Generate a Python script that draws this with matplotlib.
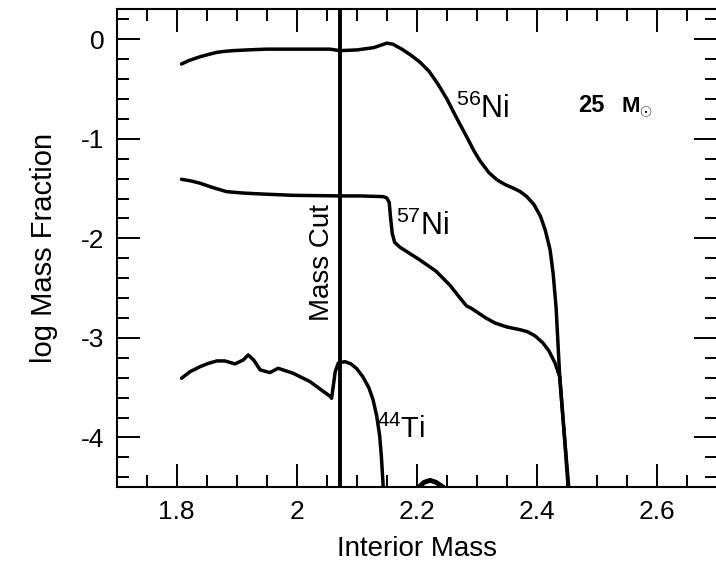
import numpy as np
import matplotlib
matplotlib.use("Agg")
import matplotlib.pyplot as plt
from matplotlib.ticker import MultipleLocator

# fonts: Helvetica-like look
plt.rcParams['font.family'] = ['Liberation Sans', 'DejaVu Sans']
plt.rcParams['mathtext.fontset'] = 'custom'
plt.rcParams['mathtext.rm'] = 'Liberation Sans'
plt.rcParams['mathtext.bf'] = 'Liberation Sans:bold'

# 56Ni profile (interior mass, log mass fraction)
ni56_m = [1.808, 1.82, 1.839, 1.855, 1.867, 1.88, 1.894, 1.92, 1.95, 2.005, 2.055, 2.072,
          2.10, 2.128, 2.15, 2.16, 2.175, 2.19, 2.205, 2.22, 2.235, 2.25, 2.267, 2.283,
          2.295, 2.305, 2.32, 2.333, 2.347, 2.361, 2.372, 2.383, 2.395, 2.406, 2.414,
          2.422, 2.427, 2.432, 2.438, 2.446, 2.453]
ni56_x = [-0.249, -0.215, -0.176, -0.15, -0.132, -0.122, -0.115, -0.107, -0.10, -0.10, -0.10,
          -0.115, -0.108, -0.085, -0.04, -0.05, -0.10, -0.16, -0.23, -0.32, -0.45, -0.60,
          -0.80, -0.98, -1.12, -1.22, -1.34, -1.41, -1.46, -1.497, -1.53, -1.58, -1.66,
          -1.78, -1.92, -2.117, -2.35, -2.70, -3.39, -4.0, -4.5]

# 57Ni profile
ni57_m = [1.808, 1.825, 1.839, 1.86, 1.883, 1.91, 1.939, 1.994, 2.072, 2.105, 2.144, 2.150,
          2.154, 2.156, 2.159, 2.163, 2.172, 2.185, 2.205, 2.232, 2.255, 2.272, 2.283, 2.29,
          2.30, 2.315, 2.33, 2.35, 2.37, 2.384, 2.397, 2.41, 2.42, 2.43, 2.438, 2.446, 2.452]
ni57_x = [-1.407, -1.425, -1.447, -1.49, -1.531, -1.545, -1.554, -1.568, -1.574, -1.574,
          -1.581, -1.595, -1.64, -1.78, -1.95, -2.04, -2.09, -2.14, -2.217, -2.33, -2.47,
          -2.60, -2.68, -2.70, -2.74, -2.80, -2.85, -2.89, -2.915, -2.937, -2.98, -3.05,
          -3.13, -3.25, -3.39, -4.0, -4.5]

# 44Ti profile
ti44_m = [1.808, 1.822, 1.839, 1.853, 1.867, 1.880, 1.897, 1.911, 1.919, 1.928, 1.939, 1.955,
          1.969, 1.994, 2.022, 2.056, 2.058, 2.064, 2.069, 2.08, 2.09, 2.10, 2.11, 2.12,
          2.127, 2.133, 2.138, 2.141, 2.144]
ti44_x = [-3.405, -3.34, -3.288, -3.255, -3.231, -3.231, -3.261, -3.221, -3.171, -3.221,
          -3.321, -3.348, -3.305, -3.355, -3.439, -3.589, -3.606, -3.339, -3.254, -3.238,
          -3.26, -3.31, -3.39, -3.50, -3.62, -3.78, -3.98, -4.2, -4.5]

# small bump of 44Ti near the bottom edge
ti44b_m = [2.203, 2.212, 2.222, 2.232, 2.244]
ti44b_x = [-4.5, -4.45, -4.43, -4.45, -4.5]

mass_cut = 2.072
xticks = [1.8, 2.0, 2.2, 2.4, 2.6]
xticklabels = ['1.8', '2', '2.2', '2.4', '2.6']
yticks = [0, -1, -2, -3, -4]
yticklabels = ['0', '-1', '-2', '-3', '-4']

fig = plt.figure(figsize=(7.16, 5.61), dpi=100)
ax = fig.add_axes([0.163, 0.1314, 0.8384, 0.852])

lw = 2.5
ax.plot(ni56_m, ni56_x, color='black', lw=lw, solid_capstyle='round', solid_joinstyle='round')
ax.plot(ni57_m, ni57_x, color='black', lw=lw, solid_capstyle='round', solid_joinstyle='round')
ax.plot(ti44_m, ti44_x, color='black', lw=lw, solid_capstyle='round', solid_joinstyle='round')
ax.plot(ti44b_m, ti44b_x, color='black', lw=lw + 1)
ax.axvline(mass_cut, color='black', lw=2.8)

ax.set_xlim(1.7, 2.7)
ax.set_ylim(-4.5, 0.3)

ax.set_xticks(xticks)
ax.set_xticklabels(xticklabels)
ax.set_yticks(yticks)
ax.set_yticklabels(yticklabels)
ax.xaxis.set_minor_locator(MultipleLocator(0.05))
ax.yaxis.set_minor_locator(MultipleLocator(0.2))
ax.tick_params(which='both', direction='in', top=True, right=True, width=1.4, labelsize=19)
ax.tick_params(which='major', length=16.5)
ax.tick_params(which='minor', length=8.6)
ax.tick_params(axis='x', pad=9)
ax.tick_params(axis='y', pad=9)
for s in ax.spines.values():
    s.set_linewidth(1.5)

ax.set_xlabel('Interior Mass', fontsize=20, labelpad=9)
ax.set_ylabel('log Mass Fraction', fontsize=21, labelpad=16)

# labels
ax.text(2.2655, -0.79, r'$^{56}$Ni', fontsize=22, ha='left', va='baseline')
ax.text(2.1655, -1.966, r'$^{57}$Ni', fontsize=22, ha='left', va='baseline')
ax.text(2.134, -4.01, r'$^{44}$Ti', fontsize=21, ha='left', va='baseline')
ax.text(mass_cut - 0.009, -2.24, 'Mass Cut', fontsize=20, rotation=90,
        ha='right', va='center')
ax.text(2.469, -0.728, '25', fontsize=17, fontweight='bold', ha='left', va='baseline')
ax.text(2.54, -0.735, r'$\mathbf{M}_{\odot}$', fontsize=16, ha='left', va='baseline')

fig.savefig('out.png', dpi=100)
